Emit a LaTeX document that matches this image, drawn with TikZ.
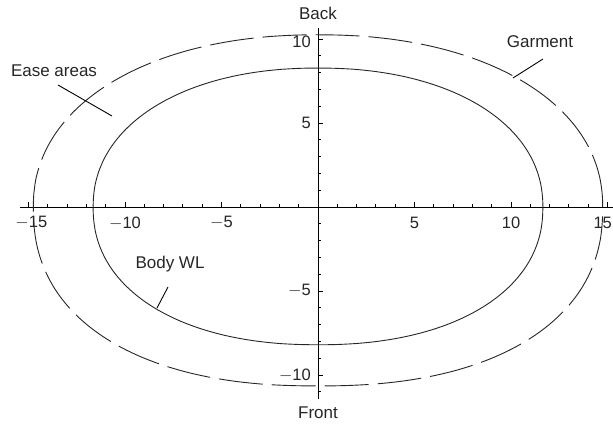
\documentclass[tikz,border=0pt]{standalone}
\usepackage{fontspec}
\setmainfont{Liberation Sans}
\begin{document}
\begin{tikzpicture}[x=1pt,y=-1pt,
  axisline/.style={line width=0.9pt, draw=black},
  curve/.style={line width=0.9pt, draw=black!85},
  garmentline/.style={curve, dash pattern=on 44pt off 9pt},
  pointer/.style={line width=0.9pt, draw=black},
  lab/.style={font=\fontsize{17}{20}\selectfont, text=black!85, inner sep=0pt},
  ticklab/.style={font=\fontsize{16.5}{19}\selectfont, text=black!85, inner sep=0pt},
  declare function={
    sgn(\t)=(\t>=0 ? 1 : -1);
  }]
\useasboundingbox (0,0) rectangle (613,427);
\begin{scope}[shift={(318,207)}, x=19.3pt, y=16.8pt]
  % axes
  \coordinate (xl) at (-15.45,0);
  \coordinate (xr) at (15.4,0);
  \coordinate (yb) at (0,-11.4);
  \coordinate (yt) at (0,10.65);
  \draw[axisline] (xl) -- (xr);
  \draw[axisline] (yb) -- (yt);
  \foreach \i in {-15,...,-1,1,2,...,15}{
    \pgfmathtruncatemacro{\m}{mod(abs(\i),5)}
    \ifnum\m=0
      \draw[axisline] (\i,0) -- ++(0pt,5pt);
    \else
      \draw[axisline] (\i,0) -- ++(0pt,3pt);
    \fi
  }
  \foreach \i in {-11,...,-1,1,2,...,10}{
    \pgfmathtruncatemacro{\m}{mod(abs(\i),5)}
    \ifnum\m=0
      \draw[axisline] (0,\i) -- ++(5pt,0pt);
    \else
      \draw[axisline] (0,\i) -- ++(3pt,0pt);
    \fi
  }
  % tick labels
  \node[ticklab] (xm15) at (-14.85,0) [yshift=-16pt] {$-$15};
  \node[ticklab] (xm10) at (-10,0) [yshift=-16pt] {$-$10};
  \node[ticklab] (xm5) at (-5,0) [yshift=-16pt] {$-$5};
  \node[ticklab] (xp5) at (5,0) [yshift=-16pt] {5};
  \node[ticklab] (xp10) at (10,0) [yshift=-16pt] {10};
  \node[ticklab] (xp15) at (14.75,0) [yshift=-16pt] {15};
  \node[ticklab, anchor=east] (yp10) at (0,10) [xshift=-7pt, yshift=-3pt] {10};
  \node[ticklab, anchor=east] (yp5) at (0,5) [xshift=-7pt] {5};
  \node[ticklab, anchor=east] (ym5) at (0,-5) [xshift=-7pt] {$-$5};
  \node[ticklab, anchor=east] (ym10) at (0,-10) [xshift=-7pt] {$-$10};
  % body waistline
  \draw[curve] plot[domain=0.5:358.5, samples=180, smooth cycle]
    ({11.65*sgn(cos(\x))*abs(cos(\x))^(2/(sin(\x)>=0 ? 2.15 : 2.2))},
     {(sin(\x)>=0 ? 8.27 : 8.2)*sgn(sin(\x))*abs(sin(\x))^(2/(sin(\x)>=0 ? 2.15 : 2.2))});
  % garment
  \draw[garmentline] plot[domain=0.5:358.5, samples=180, smooth cycle]
    ({14.75*sgn(cos(\x))*abs(cos(\x))^(2/(sin(\x)>=0 ? 2.15 : 2.3))},
     {(sin(\x)>=0 ? 10.25 : 10.65)*sgn(sin(\x))*abs(sin(\x))^(2/(sin(\x)>=0 ? 2.15 : 2.3))});
\end{scope}
% labels
\node[lab] (back) at (318,13) {Back};
\node[lab] (front) at (318,413) {Front};
\node[lab] (ease) at (54,71) {Ease areas};
\node[lab] (garment) at (540,42) {Garment};
\node[lab] (body) at (170,264) {Body WL};
% pointers
\coordinate (easeA) at (58,85);
\coordinate (easeB) at (112,116);
\coordinate (garA) at (543,59);
\coordinate (garB) at (513,78);
\coordinate (bodyA) at (168,287);
\coordinate (bodyB) at (157,308);
\draw[pointer] (easeA) -- (easeB);
\draw[pointer] (garA) -- (garB);
\draw[pointer] (bodyA) -- (bodyB);
\end{tikzpicture}
\end{document}
